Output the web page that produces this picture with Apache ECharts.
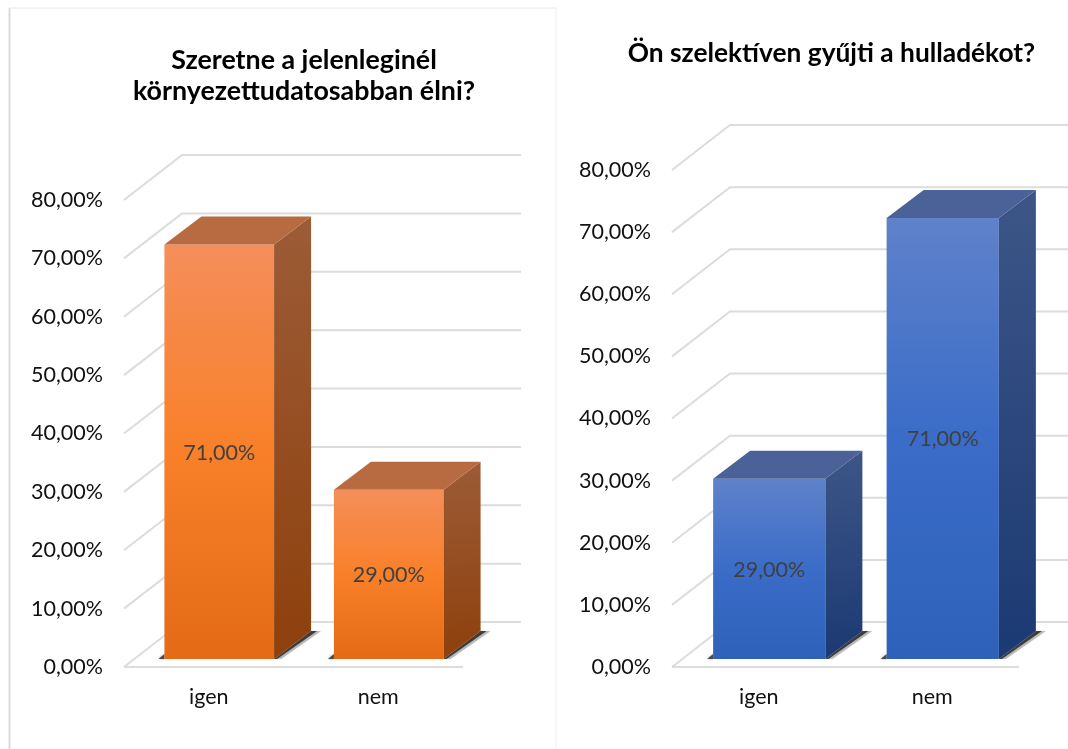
<!DOCTYPE html>
<html>
<head>
<meta charset="utf-8">
<title>Környezettudatosság</title>
<style>
  html, body { margin: 0; padding: 0; background: #fff; }
  #main { width: 1068px; height: 749px; }
</style>
<script src="https://cdn.jsdelivr.net/npm/echarts@6/dist/echarts.min.js"></script>
</head>
<body>
<div id="main"></div>
<script>
const categories = ['igen', 'nem'];
const yTicks = [0, 10, 20, 30, 40, 50, 60, 70, 80];
const leftValues = [71, 29];
const rightValues = [29, 71];
const leftTitle = 'Szeretne a jelenleginél\nkörnyezettudatosabban élni?';
const rightTitle = 'Ön szelektíven gyűjti a hulladékot?';

const FONT = 'Lato, Carlito, Calibri, sans-serif';
const GRID_COLOR = '#dcdcdc';

// 3d look: wall depth and bar depth in pixels
const WALL_DX = 58, WALL_DY = 45;
const BAR_DX = 37, BAR_DY = 28;
const BAR_SHIFT_X = 10.5, BAR_SHIFT_Y = 8;
const BAR_RATIO = 0.647;

const orange = {
  front: ['#f48e5a', '#f98029', '#e46a16'],
  side: ['#9c5c37', '#8e400c'],
  top: '#b86b40'
};
const blue = {
  front: ['#5f82ca', '#3a6cc8', '#2e62b9'],
  side: ['#3d5687', '#1b3973'],
  top: '#4a6298'
};

function fmtPercent(v) {
  return v.toFixed(2).replace('.', ',') + '%';
}

function linear(x, y, x2, y2, colors) {
  return {
    type: 'linear', x: x, y: y, x2: x2, y2: y2,
    colorStops: colors.map((c, i) => ({ offset: i / (colors.length - 1), color: c }))
  };
}

// back wall + side wall + floor, one polyline per tick
function renderWall(params, api) {
  const tick = api.value(0);
  const y = api.coord([0, tick])[1];
  const x0 = params.coordSys.x;
  const x1 = x0 + params.coordSys.width;
  const style = { stroke: GRID_COLOR, lineWidth: 2, fill: null };
  const children = [{
    type: 'polyline',
    shape: { points: [[x0, y], [x0 + WALL_DX, y - WALL_DY], [x1 + WALL_DX, y - WALL_DY]] },
    style: style
  }];
  if (tick === 0) {
    children.push({
      type: 'line',
      shape: { x1: x0, y1: y, x2: x1, y2: y },
      style: style
    });
  }
  return { type: 'group', children: children };
}

// floor shadow to the right of the bar, reach in pixels
function shadowPoly(xr, yb, reach) {
  return [[xr, yb], [xr + reach - 3, yb], [xr + BAR_DX + reach, yb - BAR_DY], [xr + BAR_DX, yb - BAR_DY]];
}

function barRenderer(palette) {
  return function (params, api) {
    const idx = api.value(0);
    const val = api.value(1);
    const c = api.coord([idx, 0]);
    const w = api.size([1, 0])[0] * BAR_RATIO;
    const h = api.size([0, val])[1];
    const xl = c[0] + BAR_SHIFT_X - w / 2;
    const xr = xl + w;
    const yb = c[1] - BAR_SHIFT_Y;
    const yt = yb - h;
    return {
      type: 'group',
      children: [
        {
          type: 'polygon',
          shape: { points: shadowPoly(xr, yb, 10) },
          style: { fill: 'rgba(90,90,90,0.35)', shadowBlur: 2, shadowColor: 'rgba(90,90,90,0.4)' }
        },
        {
          type: 'polygon',
          shape: { points: shadowPoly(xr, yb, 6) },
          style: { fill: 'rgba(40,40,40,0.85)' }
        },
        {
          type: 'polygon',
          shape: { points: [[xl - 6, yb], [xl, yb - 5], [xl, yb]] },
          style: { fill: 'rgba(40,40,40,0.8)', shadowBlur: 3, shadowColor: 'rgba(40,40,40,0.5)' }
        },
        {
          type: 'rect',
          shape: { x: xl, y: yt, width: w, height: h },
          style: { fill: linear(0, 0, 0, 1, palette.front) }
        },
        {
          type: 'polygon',
          shape: { points: [[xr, yt], [xr + BAR_DX, yt - BAR_DY], [xr + BAR_DX, yb - BAR_DY], [xr, yb]] },
          style: { fill: linear(0, 0, 0.2, 1, palette.side) }
        },
        {
          type: 'polygon',
          shape: { points: [[xl, yt], [xl + BAR_DX, yt - BAR_DY], [xr + BAR_DX, yt - BAR_DY], [xr, yt]] },
          style: { fill: palette.top }
        },
        {
          type: 'text',
          style: {
            x: (xl + xr) / 2,
            y: (yt + yb) / 2 + 1,
            text: fmtPercent(val),
            align: 'center',
            verticalAlign: 'middle',
            fill: '#404040',
            fontFamily: FONT,
            fontSize: 21.5
          }
        }
      ]
    };
  };
}

function makeX(gridIndex) {
  return {
    type: 'category',
    gridIndex: gridIndex,
    data: categories,
    axisLine: { show: false },
    axisTick: { show: false },
    axisLabel: { color: '#111', fontFamily: FONT, fontSize: 21.5, margin: 19 }
  };
}

function makeY(gridIndex) {
  return {
    type: 'value',
    gridIndex: gridIndex,
    min: 0,
    max: 80,
    interval: 10,
    axisLine: { show: false },
    axisTick: { show: false },
    splitLine: { show: false },
    axisLabel: {
      color: '#111',
      fontFamily: FONT,
      fontSize: 21.5,
      margin: 21,
      formatter: fmtPercent
    }
  };
}

function makeSeries(gridIndex, values, palette) {
  return [
    {
      type: 'custom',
      xAxisIndex: gridIndex,
      yAxisIndex: gridIndex,
      silent: true,
      z: 1,
      data: yTicks.map(t => [t]),
      encode: { y: 0 },
      renderItem: renderWall
    },
    {
      type: 'custom',
      xAxisIndex: gridIndex,
      yAxisIndex: gridIndex,
      z: 2,
      data: values.map((v, i) => [i, v]),
      encode: { x: 0, y: 1 },
      renderItem: barRenderer(palette)
    }
  ];
}

const chart = echarts.init(document.getElementById('main'));

chart.setOption({
  backgroundColor: '#fff',
  animation: false,
  title: [
    {
      text: leftTitle,
      left: 299,
      top: 40,
      textAlign: 'center',
      textStyle: { fontFamily: FONT, fontSize: 26.8, fontWeight: 'bold', color: '#000', lineHeight: 31, align: 'center' }
    },
    {
      text: rightTitle,
      left: 826.5,
      top: 33,
      textAlign: 'center',
      textStyle: { fontFamily: FONT, fontSize: 26.3, fontWeight: 'bold', color: '#000', lineHeight: 32 }
    }
  ],
  grid: [
    { left: 124, top: 200, width: 339, height: 467 },
    { left: 672, top: 170, width: 347, height: 497 }
  ],
  xAxis: [makeX(0), makeX(1)],
  yAxis: [makeY(0), makeY(1)],
  series: makeSeries(0, leftValues, orange).concat(makeSeries(1, rightValues, blue)),
  // frame around the left picture
  graphic: [
    { type: 'line', shape: { x1: 9.5, y1: 8, x2: 9.5, y2: 749 }, style: { stroke: '#dcdcdc', lineWidth: 2 } },
    { type: 'line', shape: { x1: 9, y1: 8, x2: 556, y2: 8 }, style: { stroke: '#e8e8e8', lineWidth: 1 } },
    { type: 'line', shape: { x1: 556, y1: 8, x2: 556, y2: 749 }, style: { stroke: '#f0f0f0', lineWidth: 1 } }
  ]
});
</script>
</body>
</html>
